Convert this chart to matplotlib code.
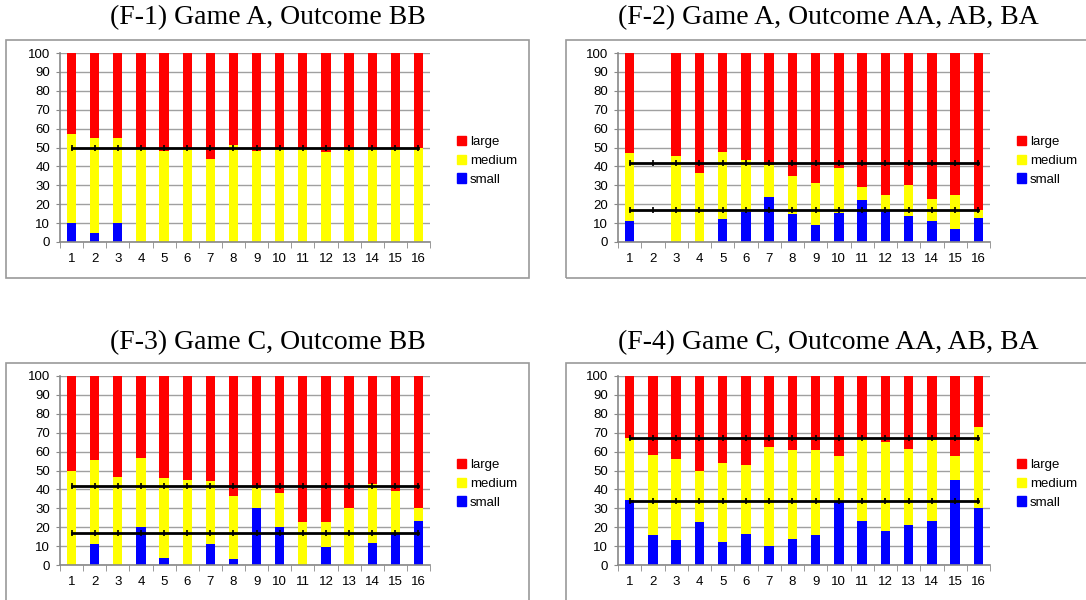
import matplotlib
matplotlib.use("Agg")
import matplotlib.pyplot as plt
from matplotlib.patches import Rectangle, Patch

# data (percent shares per round)
rounds = list(range(1, 17))

f1_small = [10, 5, 10, 0, 0, 0, 0, 0, 0, 0, 0, 0, 0, 0, 0, 0]
f1_medium = [47, 50, 45, 49, 48, 50, 44, 51.5, 48, 50, 50, 47.5, 50, 50, 50, 50]
f1_large = [43, 45, 45, 51, 52, 50, 56, 48.5, 52, 50, 50, 52.5, 50, 50, 50, 50]
f1_lines = [50]

f2_small = [11, 0, 0, 0, 12, 16, 24, 15, 9, 15.5, 22, 17, 14, 11, 7, 12.5]
f2_medium = [36, 0, 45.5, 36.5, 35.5, 27.5, 16.5, 20, 22, 23.5, 7, 8, 16, 12, 18, 4.5]
f2_large = [53, 0, 54.5, 63.5, 52.5, 56.5, 59.5, 65, 69, 61, 71, 75, 70, 77, 75, 83]
f2_lines = [41.7, 16.7]

f3_small = [0, 11, 0, 20, 3.5, 0, 11, 3, 30, 20, 0, 9.5, 0, 11.5, 17, 23.5]
f3_medium = [50, 44.5, 46.5, 36.5, 42.5, 45, 33.5, 33.5, 11, 18, 23, 13.5, 30, 31.5, 22, 6.5]
f3_large = [50, 44.5, 53.5, 43.5, 54, 55, 55.5, 63.5, 59, 62, 77, 77, 70, 57, 61, 70]
f3_lines = [41.7, 16.7]

f4_small = [34.5, 16, 13, 23, 12, 16.5, 10, 14, 16, 34, 23.5, 18, 21, 23.5, 45, 30]
f4_medium = [32.5, 42, 43, 27, 42, 36.5, 52.5, 47, 45, 23.5, 43.5, 47, 40.5, 42.5, 12.5, 43]
f4_large = [33, 42, 44, 50, 46, 47, 37.5, 39, 39, 42.5, 33, 35, 38.5, 34, 42.5, 27]
f4_lines = [67, 34]

titles = ["(F-1) Game A, Outcome BB", "(F-2) Game A, Outcome AA, AB, BA",
          "(F-3) Game C, Outcome BB", "(F-4) Game C, Outcome AA, AB, BA"]

W, H = 1086, 600
fig = plt.figure(figsize=(W / 100, H / 100), dpi=100)


def px_rect(x0, y0, x1, y1):
    # pixel box (from top-left) -> figure fraction
    return [x0 / W, 1 - y1 / H, (x1 - x0) / W, (y1 - y0) / H]


panels = [
    (f1_small, f1_medium, f1_large, f1_lines, (60, 53, 430, 242), (6, 40, 529, 278), 268, 18),
    (f2_small, f2_medium, f2_large, f2_lines, (618, 53, 990, 242), (566, 40, 1090, 278), 828, 18),
    (f3_small, f3_medium, f3_large, f3_lines, (60, 376, 430, 565), (6, 363, 529, 610), 268, 343),
    (f4_small, f4_medium, f4_large, f4_lines, (618, 376, 990, 565), (566, 363, 1090, 610), 828, 343),
]

for i, (small, medium, large, lines, ax_px, box_px, tx, ty) in enumerate(panels):
    # chart frame
    bx0, by0, bx1, by1 = box_px
    fig.patches.append(Rectangle((bx0 / W, 1 - by1 / H), (bx1 - bx0) / W, (by1 - by0) / H,
                                 transform=fig.transFigure, fill=False,
                                 edgecolor="#9a9a9a", linewidth=1.2))
    fig.text(tx / W, 1 - ty / H, titles[i], ha="center", va="center",
             family="Liberation Serif", fontsize=20)

    ax = fig.add_axes(px_rect(*ax_px))
    bottom2 = [s + m for s, m in zip(small, medium)]
    ax.bar(rounds, small, width=0.4, color="#0000ff", zorder=2)
    ax.bar(rounds, medium, width=0.4, bottom=small, color="#ffff00", zorder=2)
    ax.bar(rounds, large, width=0.4, bottom=bottom2, color="#ff0000", zorder=2)
    for v in lines:
        ax.plot([rounds[0], rounds[-1]], [v, v], color="black", lw=2, zorder=3)
        ax.plot(rounds, [v] * len(rounds), ls="none", marker="|", ms=4, mew=1.2,
                color="black", zorder=3)

    ax.set_xlim(0.5, 16.5)
    ax.set_ylim(0, 100)
    ax.set_yticks(range(0, 101, 10))
    ax.set_xticks(rounds)
    ax.set_xticks([r + 0.5 for r in range(0, 17)], minor=True)
    ax.tick_params(axis="x", which="major", length=0, pad=8, labelsize=9.5)
    ax.tick_params(axis="x", which="minor", length=4, color="#888888")
    ax.tick_params(axis="y", length=3, color="#888888", labelsize=9.5, pad=4)
    for lab in ax.get_xticklabels() + ax.get_yticklabels():
        lab.set_family("Liberation Sans")
    ax.grid(axis="y", color="#a0a0a0", lw=1, zorder=0)
    ax.set_axisbelow(True)
    for s in ["top", "right"]:
        ax.spines[s].set_visible(False)
    for s in ["left", "bottom"]:
        ax.spines[s].set_color("#888888")
        ax.spines[s].set_linewidth(1.2)

    handles = [Patch(color="#ff0000", label="large"),
               Patch(color="#ffff00", label="medium"),
               Patch(color="#0000ff", label="small")]
    ax.legend(handles=handles, loc="center left", bbox_to_anchor=(1.04, 0.43),
              frameon=False, handlelength=0.7, handleheight=0.7, handletextpad=0.3,
              labelspacing=0.5, prop={"family": "Liberation Sans", "size": 9.5})

fig.savefig("out.png", dpi=100)
